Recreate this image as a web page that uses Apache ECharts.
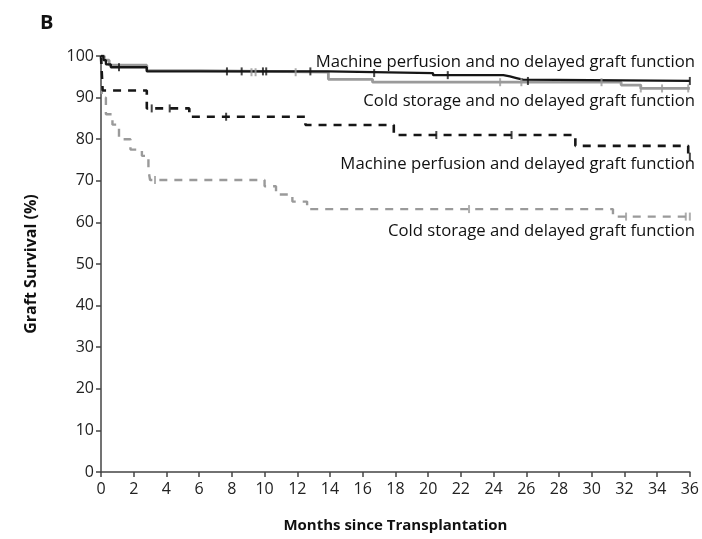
<!DOCTYPE html>
<html>
<head>
<meta charset="utf-8">
<script src="https://cdn.jsdelivr.net/npm/echarts@6/dist/echarts.min.js"></script>
<style>html,body{margin:0;padding:0;background:#fff;}#c{width:702px;height:539px;}</style>
</head>
<body>
<div id="c"></div>
<script>
// ---- data ----
const xTicks = [0,2,4,6,8,10,12,14,16,18,20,22,24,26,28,30,32,34,36];
const yTicks = [0,10,20,30,40,50,60,70,80,90,100];

const mpNoDgfT = [0, 0.15, 0.3, 0.6, 2.8, 13.9, 20.3, 24.6, 25.0, 25.4, 25.8, 36];
const mpNoDgfS = [100, 99, 98, 97.3, 96.3, 95.9, 95.4, 95.1, 94.7, 94.3, 94.0, 94.0];
const mpNoDgfCens = [1.1, 7.7, 8.6, 9.9, 10.1, 12.8, 16.7, 21.2, 26.1, 36];

const csNoDgfT = [0, 0.2, 0.5, 2.8, 6, 13.9, 16.6, 31.8, 33, 36];
const csNoDgfS = [100, 99, 97.8, 96.5, 96.1, 94.4, 93.7, 93.0, 92.2, 92.2];
const csNoDgfCens = [9.2, 9.45, 11.9, 24.4, 25.7, 30.6, 33, 34.3, 35.9];

const mpDgfT = [0, 0.1, 2.8, 5.4, 12.5, 17.9, 29, 35.9, 36];
const mpDgfS = [100, 91.7, 87.4, 85.4, 83.4, 81.0, 78.4, 75.8, 75.8];
const mpDgfCens = [3.1, 4.2, 7.65, 20.5, 25.1, 36];

const csDgfT = [0, 0.05, 0.3, 0.7, 1.1, 1.8, 2.5, 2.9, 3.0, 10, 10.7, 11.7, 12.6, 31.3, 36];
const csDgfS = [100, 90, 86, 83.5, 80, 77.5, 76, 72.5, 70.2, 68.7, 66.7, 65, 63.2, 61.4, 61.4];
const csDgfCens = [3.3, 22.5, 32.1, 35.75, 36];

const labels = [
  'Machine perfusion and no delayed graft function',
  'Cold storage and no delayed graft function',
  'Machine perfusion and delayed graft function',
  'Cold storage and delayed graft function'
];
// -----------------------------------------

function pairs(T, S){ return T.map((t,i)=>[t,S[i]]); }
function lookup(T, S, t){
  let v = S[0];
  for (let i=0;i<T.length;i++){ if (T[i] <= t) v = S[i]; }
  return v;
}
function cens(T,S,C){ return C.map(t=>[t, lookup(T,S,t)]); }

const BLACK = '#161616', GRAY = '#9a9a9a';
const FONT = 'Open Sans';

function stepLine(name, T, S, color, width, dash){
  return {
    name, type:'line', step:'end', data: pairs(T,S), showSymbol:false, symbol:'none',
    lineStyle:{color, width, type: dash ? [8,7] : 'solid'}, z: dash?3:4, animation:false
  };
}
function censor(T,S,C,color){
  return {
    type:'scatter', data: cens(T,S,C), symbol:'rect', symbolSize:[2,8],
    itemStyle:{color}, z:5, animation:false, silent:true
  };
}

const chart = echarts.init(document.getElementById('c'), null, {renderer:'canvas'});
chart.setOption({
  backgroundColor:'#fff',
  animation:false,
  grid:{left:101, right:10, top:56, bottom:67},
  xAxis:{
    type:'value', min:0, max:36, interval:2,
    name:'Months since Transplantation', nameLocation:'middle', nameGap:46,
    nameTextStyle:{fontFamily:FONT, fontWeight:'bold', fontSize:15, color:'#111'},
    axisLine:{lineStyle:{color:'#444', width:1.5}},
    axisTick:{show:true, length:5, lineStyle:{color:'#444', width:1.5}},
    axisLabel:{fontFamily:FONT, fontSize:16, color:'#222', margin:9,
      formatter: v => xTicks.includes(v) ? String(v) : ''},
    splitLine:{show:false}
  },
  yAxis:{
    type:'value', min:0, max:100, interval:10,
    name:'Graft Survival (%)', nameLocation:'middle', nameGap:62, nameRotate:90,
    nameTextStyle:{fontFamily:FONT, fontWeight:'bold', fontSize:16, color:'#111'},
    axisLine:{show:true, lineStyle:{color:'#444', width:1.5}},
    axisTick:{show:true, length:5, lineStyle:{color:'#444', width:1.5}},
    axisLabel:{fontFamily:FONT, fontSize:16, color:'#222', margin:7,
      formatter: v => yTicks.includes(v) ? String(v) : ''},
    splitLine:{show:false}
  },
  series:[
    stepLine(labels[3], csDgfT, csDgfS, GRAY, 2.4, true),
    stepLine(labels[2], mpDgfT, mpDgfS, BLACK, 2.6, true),
    stepLine(labels[1], csNoDgfT, csNoDgfS, GRAY, 2.8, false),
    stepLine(labels[0], mpNoDgfT, mpNoDgfS, BLACK, 2.3, false),
    censor(csDgfT, csDgfS, csDgfCens, GRAY),
    censor(mpDgfT, mpDgfS, mpDgfCens, BLACK),
    censor(csNoDgfT, csNoDgfS, csNoDgfCens, GRAY),
    censor(mpNoDgfT, mpNoDgfS, mpNoDgfCens, BLACK)
  ],
  graphic:[
    {type:'text', left:40, top:13, style:{text:'B', fontFamily:FONT, fontWeight:'bold', fontSize:20, fill:'#111'}},
    {type:'text', x:695, y:62, style:{text:labels[0], fontFamily:FONT, fontSize:16.7, fill:'#111', align:'right', verticalAlign:'middle'}},
    {type:'text', x:695, y:101, style:{text:labels[1], fontFamily:FONT, fontSize:16.7, fill:'#111', align:'right', verticalAlign:'middle'}},
    {type:'text', x:695, y:164, style:{text:labels[2], fontFamily:FONT, fontSize:16.7, fill:'#111', align:'right', verticalAlign:'middle'}},
    {type:'text', x:695, y:231, style:{text:labels[3], fontFamily:FONT, fontSize:16.7, fill:'#111', align:'right', verticalAlign:'middle'}}
  ]
});
</script>
</body>
</html>
